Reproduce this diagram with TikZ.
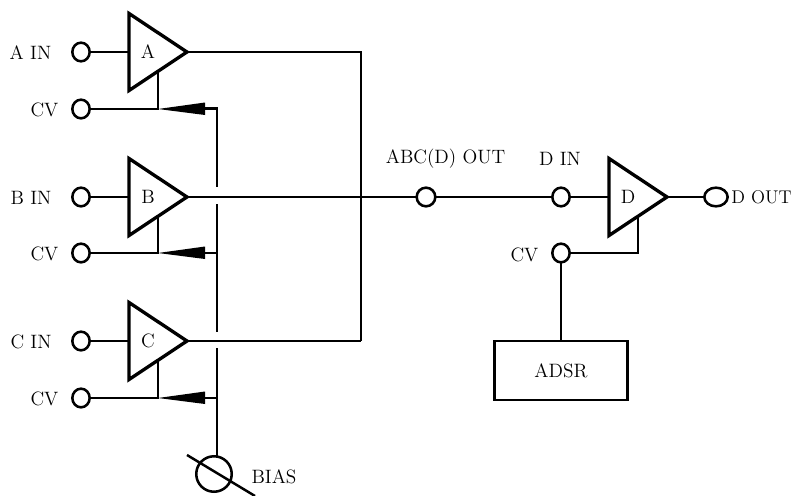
\documentclass[tikz,border=0pt]{standalone}
\usepackage{amsmath,amsthm,amssymb}
\usetikzlibrary{shapes.geometric,calc}
\tikzset{
  wire/.style={line width=1.85pt},
  jack/.style={draw,ellipse,line width=1.9pt,minimum width=13pt,minimum height=14pt,inner sep=0pt,outer sep=0pt,fill=white},
  amp/.style={draw,isosceles triangle,isosceles triangle stretches,minimum height=58*0.75pt,minimum width=77*0.75pt,inner sep=0pt,outer sep=0pt,line width=2.5pt,font=\fontsize{14.5}{16}\selectfont,anchor=apex},
  lab/.style={font=\fontsize{14.5}{16}\selectfont,inner sep=0pt},
  wedge/.style={fill=black,draw=none}
}
\begin{document}
\begin{tikzpicture}[x=0.75pt,y=0.75pt,yscale=-1,xscale=1]
        \useasboundingbox (0,0) rectangle (793,496);

        %Shape: Triangles
        \node [amp] (ampA) at (187,52) {A};
        \node [amp] (ampB) at (187,197) {B};
        \node [amp] (ampC) at (187,341) {C};
        \node [amp] (ampD) at (667,197) {D};

        %Shape: Jacks
        \node [jack] (inA) at (81,52) {};
        \node [jack] (cvA) at (81,109) {};
        \node [jack] (inB) at (81,197) {};
        \node [jack] (cvB) at (81,253) {};
        \node [jack] (inC) at (81,341) {};
        \node [jack] (cvC) at (81,398) {};
        \node [jack,minimum width=14pt] (mixout) at (426,197) {};
        \node [jack] (inD) at (561,197) {};
        \node [jack,minimum width=17.5pt] (outD) at (716,197) {};
        \node [jack] (cvD) at (561,253) {};
        \node [draw,line width=1.85pt,outer sep=0pt,minimum width=133*0.75pt,minimum height=59*0.75pt,inner sep=0pt,font=\fontsize{14.5}{16}\selectfont] (adsr) at (561,370.5) {ADSR};
        \node [jack,minimum width=26.6pt,minimum height=26.6pt] (bias) at (214,474) {};

        %Shape: Inputs
        \draw [wire] (inA) -- (ampA.lower side);
        \draw [wire] (inB) -- (ampB.lower side);
        \draw [wire] (inC) -- (ampC.lower side);
        \draw [wire] (ampA.apex) -- (361,52) coordinate (busA) -- (361,341) coordinate (busC);
        \draw [wire] (ampB.apex) -- (mixout);
        \draw [wire] (ampC.apex) -- (busC);
        \draw [wire] (mixout) -- (inD);
        \draw [wire] (inD) -- (ampD.lower side);
        \draw [wire] (ampD.apex) -- (outD);

        %Shape: Control lines
        \coordinate (tipA) at (ampA.right side |- cvA);
        \coordinate (tipB) at (ampB.right side |- cvB);
        \coordinate (tipC) at (ampC.right side |- cvC);
        \draw [wire] (cvA) -- (tipA) -- (ampA.right side);
        \draw [wire] (cvB) -- (tipB) -- (ampB.right side);
        \draw [wire] (cvC) -- (tipC) -- (ampC.right side);
        \draw [wire] (cvD) -- (ampD.right side |- cvD) -- (ampD.right side);
        \draw [wire] (cvD) -- (adsr);

        %Shape: Wedges
        \fill [wedge] (tipA) -- (205,102.5) -- (205,115) -- cycle;
        \fill [wedge] (tipB) -- (205,246.5) -- (205,259) -- cycle;
        \fill [wedge] (tipC) -- (205,391.5) -- (205,404) -- cycle;

        %Shape: Bias line with gaps
        \draw [wire] (205,108.5) -- (217,108.5) -- (217,187);
        \draw [wire] (217,204) -- (217,332);
        \draw [wire] (205,253) -- (217,253);
        \draw [wire] (217,348) coordinate (gapC) -- (gapC |- bias.north);
        \draw [wire] (205,398) -- (217,398);
        \draw [wire] (187,455) -- (255,496);

        % Text Node
        \node [lab] (labA) at (30.5,53) {A IN};
        \node [lab] (labcvA) at (44.5,110) {CV};
        \node [lab] (labB) at (31,198) {B IN};
        \node [lab] (labcvB) at (44.5,254) {CV};
        \node [lab] (labC) at (31,342) {C IN};
        \node [lab] (labcvC) at (44.5,399) {CV};
        \node [lab] (labmix) at (445.5,159) {ABC(D) OUT};
        \node [lab] (labinD) at (560,159) {D IN};
        \node [lab] (labcvD) at (524.5,255) {CV};
        \node [lab,anchor=west,font=\fontsize{13.8}{16}\selectfont] (laboutD) at (731,197) {D OUT};
        \node [lab] (labbias) at (274,477) {BIAS};
\end{tikzpicture}
\end{document}
